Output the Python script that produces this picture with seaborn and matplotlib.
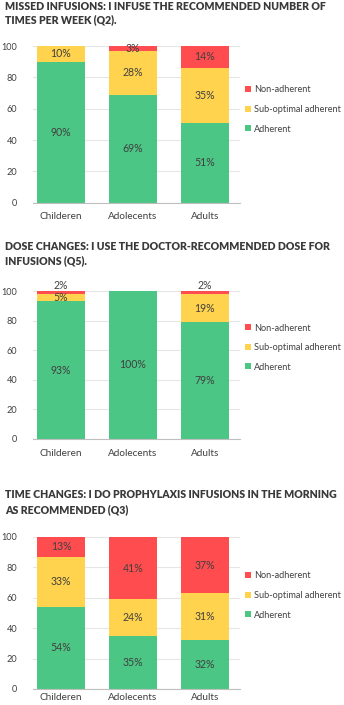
import matplotlib
matplotlib.use("Agg")
import matplotlib.pyplot as plt
from matplotlib.patches import Patch
import seaborn as sns
import pandas as pd
import numpy as np

groups = ["Childeren", "Adolecents", "Adults"]
series = ["Adherent", "Sub-optimal adherent", "Non-adherent"]
colors = {"Adherent": "#4cc685", "Sub-optimal adherent": "#ffd34d", "Non-adherent": "#ff4d4f"}

titles = [
    "MISSED INFUSIONS: I INFUSE THE RECOMMENDED NUMBER OF\nTIMES PER WEEK (Q2).",
    "DOSE CHANGES: I USE THE DOCTOR-RECOMMENDED DOSE FOR\nINFUSIONS (Q5).",
    "TIME CHANGES: I DO PROPHYLAXIS INFUSIONS IN THE MORNING\nAS RECOMMENDED (Q3)",
]

q2_adherent = [90, 69, 51]
q2_suboptimal = [10, 28, 35]
q2_non = [0, 3, 14]

q5_adherent = [93, 100, 79]
q5_suboptimal = [5, 0, 19]
q5_non = [2, 0, 2]

q3_adherent = [54, 35, 32]
q3_suboptimal = [33, 24, 31]
q3_non = [13, 41, 37]

yticks = [0, 20, 40, 60, 80, 100]

panels = [
    (q2_adherent, q2_suboptimal, q2_non),
    (q5_adherent, q5_suboptimal, q5_non),
    (q3_adherent, q3_suboptimal, q3_non),
]

W, H = 344, 705
fig = plt.figure(figsize=(W / 100, H / 100), dpi=100)
plt.rcParams["font.family"] = ["Lato", "DejaVu Sans"]

# pixel geometry: (top, bottom) of plot area, title line ys, legend first row y
geo = [
    dict(top=46, bot=202.7, t1=6, t2=20, leg=92, xpad=7),
    dict(top=291, bot=439, t1=247, t2=261, leg=330, xpad=7),
    dict(top=537, bot=689, t1=495, t2=510, leg=578, xpad=3),
]
x_left, x_right = 33, 240
text_col = "#404040"

for (adh, sub, non), g, title in zip(panels, geo, titles):
    ax = fig.add_axes([x_left / W, (H - g["bot"]) / H, (x_right - x_left) / W, (g["bot"] - g["top"]) / H])
    df = pd.DataFrame({"group": groups, "Adherent": adh, "Sub-optimal adherent": sub, "Non-adherent": non})
    df["c1"] = df["Adherent"]
    df["c2"] = df["Adherent"] + df["Sub-optimal adherent"]
    df["c3"] = df["c2"] + df["Non-adherent"]
    for col, s in zip(["c3", "c2", "c1"], ["Non-adherent", "Sub-optimal adherent", "Adherent"]):
        sns.barplot(data=df, x="group", y=col, color=colors[s], saturation=1, width=0.667, ax=ax, zorder=2, linewidth=0)
    # labels
    for i, row in df.iterrows():
        bottom = 0
        for s in series:
            v = row[s]
            if v > 0:
                if v <= 2:
                    yy = 100 + 3.8
                else:
                    yy = bottom + v / 2
                ax.text(i, yy, f"{v}%", ha="center", va="center", fontsize=7.6, color=text_col, zorder=5, clip_on=False)
            bottom += v
    ax.set_ylim(0, 100)
    ax.set_xlim(-0.39, 2.49)
    ax.set_yticks(yticks)
    ax.set_xlabel("")
    ax.set_ylabel("")
    for sp in ["top", "right", "left"]:
        ax.spines[sp].set_visible(False)
    ax.spines["bottom"].set_color("#bfbfbf")
    ax.spines["bottom"].set_zorder(3)
    ax.yaxis.grid(True, color="#e6e6e6", linewidth=0.8, zorder=0)
    ax.set_axisbelow(True)
    ax.tick_params(axis="y", length=0, pad=11.5, labelsize=6.6, labelcolor=text_col)
    ax.tick_params(axis="x", length=0, pad=g["xpad"], labelsize=7.2, labelcolor=text_col)
    for lbl in ax.get_yticklabels():
        lbl.set_horizontalalignment("right")

    fig.text(5 / W, 1 - g["t1"] / H, title.split("\n")[0], fontsize=7.6, fontweight="heavy", color="#3a3a3a", va="center", ha="left")
    fig.text(5 / W, 1 - g["t2"] / H, title.split("\n")[1], fontsize=7.6, fontweight="heavy", color="#3a3a3a", va="center", ha="left")

    handles = [Patch(facecolor=colors[s], edgecolor="none", label=s) for s in ["Non-adherent", "Sub-optimal adherent", "Adherent"]]
    leg = fig.legend(handles=handles, loc="upper left",
                     bbox_to_anchor=(245 / W, 1 - (g["leg"] - 6.5) / H),
                     frameon=False, fontsize=6.6, labelcolor=text_col,
                     handlelength=0.65, handleheight=0.65, handletextpad=0.35,
                     labelspacing=1.15, borderpad=0, borderaxespad=0)

fig.savefig("out.png", dpi=100)
